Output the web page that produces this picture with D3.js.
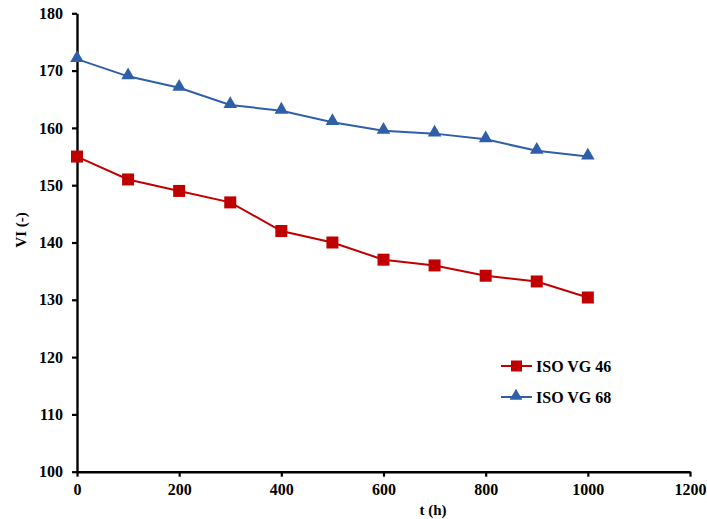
<!DOCTYPE html>
<html><head><meta charset="utf-8">
<script src="https://cdn.jsdelivr.net/npm/d3@7"></script>
<style>body{margin:0;background:#fff}text{font-family:"Liberation Serif","Times New Roman",serif;font-weight:bold}</style>
</head><body><svg id="c" width="707" height="519"></svg>
<script>
const times = [0,100,200,300,400,500,600,700,800,900,1000];
const vg46 = [155,151,149,147,142,140,137,136,134.2,133.2,130.4];
const vg68 = [172,169,167,164,163,161,159.5,159,158,156,155];
const xTicks = [0,200,400,600,800,1000,1200];
const yTicks = [100,110,120,130,140,150,160,170,180];
const seriesNames = ["ISO VG 46","ISO VG 68"];
const colors = ["#C00000","#2F5FA8"];

const svg = d3.select("#c");
const x = d3.scaleLinear().domain([0,1200]).range([77,690]);
const y = d3.scaleLinear().domain([100,180]).range([471.7,13.3]);

const xa = svg.append("g").attr("transform","translate(0,"+y(100)+")")
  .call(d3.axisBottom(x).tickValues(xTicks).tickFormat(d3.format("d")).tickSize(5).tickPadding(7).tickSizeOuter(0));
const ya = svg.append("g").attr("transform","translate("+x(0)+",0)")
  .call(d3.axisLeft(y).tickValues(yTicks).tickFormat(d3.format("d")).tickSize(5).tickPadding(9).tickSizeOuter(0));
[xa,ya].forEach(a=>{
  a.select(".domain").attr("stroke","#000").attr("stroke-width",2.4);
  a.selectAll(".tick line").attr("stroke","#000").attr("stroke-width",2.2);
  a.selectAll(".tick text").attr("font-size",16).attr("fill","#000").style("font-family","Liberation Serif").style("font-weight","bold");
});

svg.append("text").attr("transform","translate(26,230) rotate(-90)").attr("text-anchor","middle")
  .attr("font-size",15).text("VI (-)");
svg.append("text").attr("x",433).attr("y",515).attr("text-anchor","middle").attr("font-size",15).text("t (h)");

const line = d3.line().x((d,i)=>x(times[i])).y(d=>y(d));
const tri = d3.symbol().type(d3.symbolTriangle).size(80);
function drawSeries(vals, color, kind){
  const g = svg.append("g");
  g.append("path").datum(vals).attr("d",line).attr("fill","none").attr("stroke",color).attr("stroke-width",2);
  if(kind==="square"){
    g.selectAll("rect").data(vals).join("rect")
      .attr("x",(d,i)=>x(times[i])-6).attr("y",d=>y(d)-6).attr("width",12).attr("height",12).attr("fill",color);
  } else {
    g.selectAll("path.m").data(vals).join("path").attr("class","m")
      .attr("transform",(d,i)=>"translate("+x(times[i])+","+(y(d)-1)+")").attr("d",tri).attr("fill",color);
  }
}
drawSeries(vg46, colors[0], "square");
drawSeries(vg68, colors[1], "triangle");

// legend
const leg = [[366,"square"],[397,"triangle"]];
leg.forEach((l,i)=>{
  const ly=l[0];
  svg.append("line").attr("x1",501).attr("x2",532).attr("y1",ly).attr("y2",ly).attr("stroke",colors[i]).attr("stroke-width",2);
  if(l[1]==="square") svg.append("rect").attr("x",511).attr("y",ly-5.5).attr("width",11).attr("height",11).attr("fill",colors[i]);
  else svg.append("path").attr("transform","translate(516,"+(ly-1)+")").attr("d",d3.symbol().type(d3.symbolTriangle).size(70)).attr("fill",colors[i]);
  svg.append("text").attr("x",536).attr("y",ly+5.5).attr("font-size",16).text(seriesNames[i]);
});
</script></body></html>
